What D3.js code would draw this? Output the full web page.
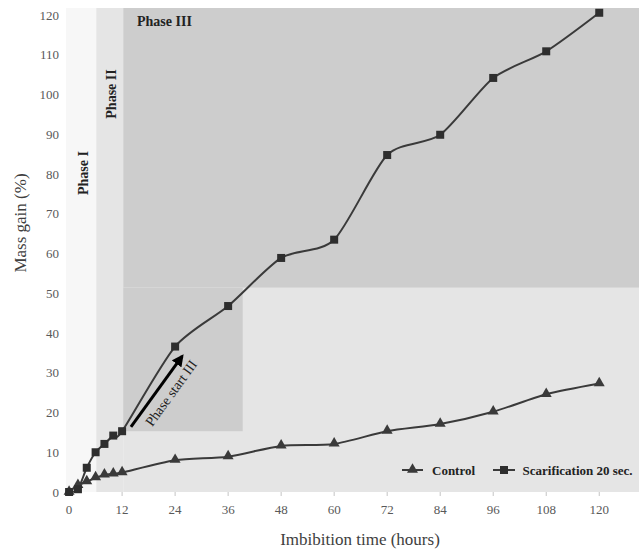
<!DOCTYPE html>
<html>
<head>
<meta charset="utf-8">
<script src="https://cdn.jsdelivr.net/npm/d3@7"></script>
<style>
  html, body { margin: 0; padding: 0; background: #fff; }
  svg { display: block; }
</style>
</head>
<body>
<svg id="chart" width="639" height="551" font-family="'Liberation Serif', 'DejaVu Serif', serif"></svg>
<script>
// ---- data ----
const hours = [0, 2, 4, 6, 8, 10, 12, 24, 36, 48, 60, 72, 84, 96, 108, 120];
const controlValues = [0, 1.7, 2.6, 3.6, 4.3, 4.6, 4.9, 8.0, 8.9, 11.6, 12.1, 15.3, 17.1, 20.2, 24.6, 27.3];
const scarificationValues = [0, 0.7, 6.1, 10.0, 12.1, 14.2, 15.3, 36.6, 46.8, 58.9, 63.5, 84.8, 89.9, 104.2, 110.9, 120.6];
const xTicks = [0, 12, 24, 36, 48, 60, 72, 84, 96, 108, 120];
const yTicks = [0, 10, 20, 30, 40, 50, 60, 70, 80, 90, 100, 110, 120];
const seriesNames = ["Control", "Scarification 20 sec."];
// phase regions (hours / % units)
const phaseBounds = { xMin: -0.7, p1End: 6.15, p2End: 12.25, xMax: 129, yMax: 121.8, p3Floor: 51.4, startRectEnd: 39.3, startRectFloor: 15.3 };
const arrowData = { from: [14, 16.4], to: [25.6, 34.2] };

// ---- layout ----
const FONT = "'Liberation Serif', 'DejaVu Serif', serif";
const svg = d3.select("#chart");
const plotL = 66, plotR = 639, plotT = 8, plotB = 492;
const x = d3.scaleLinear().domain([phaseBounds.xMin, phaseBounds.xMax]).range([plotL, plotR]);
const y = d3.scaleLinear().domain([0, phaseBounds.yMax]).range([plotB, plotT]);

// backgrounds
const P = phaseBounds;
function rect(x0, x1, y0, y1, fill) {
  svg.append("rect")
    .attr("x", x(x0)).attr("width", x(x1) - x(x0))
    .attr("y", y(y1)).attr("height", y(y0) - y(y1))
    .attr("fill", fill);
}
rect(P.xMin, P.p1End, 0, P.yMax, "#f7f7f7");
rect(P.p1End, P.p2End, 0, P.yMax, "#e5e5e5");
rect(P.p2End, P.xMax, 0, P.p3Floor, "#e5e5e5");
rect(P.p2End, P.xMax, P.p3Floor, P.yMax, "#cdcdcd");
rect(P.p2End, P.startRectEnd, P.startRectFloor, P.p3Floor, "#cdcdcd");

// x ticks
const gx = svg.append("g");
gx.selectAll("line").data(xTicks).join("line")
  .attr("x1", d => x(d)).attr("x2", d => x(d))
  .attr("y1", plotB).attr("y2", plotB + 4)
  .attr("stroke", "#c4c4c4").attr("stroke-width", 1);
gx.selectAll("text").data(xTicks).join("text")
  .attr("x", d => x(d)).attr("y", plotB + 22)
  .attr("font-family", FONT)
  .attr("text-anchor", "middle").attr("font-size", 13).attr("fill", "#595959")
  .text(d => d);

// y ticks
svg.append("g").selectAll("text").data(yTicks).join("text")
  .attr("x", 59).attr("y", d => y(d) + 4.5)
  .attr("font-family", FONT)
  .attr("text-anchor", "end").attr("font-size", 13).attr("fill", "#595959")
  .text(d => d);

// axis titles
svg.append("text").attr("x", 360).attr("y", 545)
  .attr("font-family", FONT)
  .attr("text-anchor", "middle").attr("font-size", 17).attr("fill", "#404040")
  .text("Imbibition time (hours)");
svg.append("text").attr("transform", "translate(26,223) rotate(-90)")
  .attr("font-family", FONT)
  .attr("text-anchor", "middle").attr("font-size", 17).attr("fill", "#404040")
  .text("Mass gain (%)");

// phase labels
svg.append("text").attr("x", 137).attr("y", 26)
  .attr("font-family", FONT)
  .attr("font-size", 14).attr("font-weight", "bold").attr("fill", "#222")
  .text("Phase III");
svg.append("text").attr("transform", "translate(116,94) rotate(-90)")
  .attr("font-family", FONT)
  .attr("text-anchor", "middle").attr("font-size", 14).attr("font-weight", "bold").attr("fill", "#222")
  .text("Phase II");
svg.append("text").attr("transform", "translate(88,173) rotate(-90)")
  .attr("font-family", FONT)
  .attr("text-anchor", "middle").attr("font-size", 14).attr("font-weight", "bold").attr("fill", "#222")
  .text("Phase I");

// lines
const lineColor = "#3a3a3a";
const line = d3.line().x(d => x(d[0])).y(d => y(d[1])).curve(d3.curveCardinal.tension(0.25));
const ctrl = hours.map((h, i) => [h, controlValues[i]]);
const scar = hours.map((h, i) => [h, scarificationValues[i]]);
svg.append("path").attr("d", line(ctrl)).attr("fill", "none").attr("stroke", lineColor).attr("stroke-width", 2);
svg.append("path").attr("d", line(scar)).attr("fill", "none").attr("stroke", lineColor).attr("stroke-width", 2);

const tri = d3.symbol().type(d3.symbolTriangle).size(52);
svg.append("g").selectAll("path").data(ctrl).join("path")
  .attr("transform", d => `translate(${x(d[0])},${y(d[1]) - 0.5})`)
  .attr("d", tri()).attr("fill", "#3a3a3a");
svg.append("g").selectAll("rect").data(scar).join("rect")
  .attr("x", d => x(d[0]) - 4).attr("y", d => y(d[1]) - 4)
  .attr("width", 8).attr("height", 8).attr("fill", "#2e2e2e");

// arrow
const defs = svg.append("defs");
defs.append("marker").attr("id", "ah").attr("viewBox", "0 0 10 10")
  .attr("refX", 8).attr("refY", 5).attr("markerWidth", 4).attr("markerHeight", 4)
  .attr("orient", "auto")
  .append("path").attr("d", "M0,0 L10,5 L0,10 z").attr("fill", "#000");
const ax0 = x(arrowData.from[0]), ay0 = y(arrowData.from[1]);
const ax1 = x(arrowData.to[0]), ay1 = y(arrowData.to[1]);
svg.append("line").attr("x1", ax0).attr("y1", ay0).attr("x2", ax1).attr("y2", ay1)
  .attr("stroke", "#000").attr("stroke-width", 3).attr("marker-end", "url(#ah)");
const ang = Math.atan2(ay1 - ay0, ax1 - ax0) * 180 / Math.PI;
svg.append("text").attr("transform", `translate(171,393) rotate(${ang})`)
  .attr("font-family", FONT)
  .attr("text-anchor", "middle").attr("dy", "0.35em").attr("font-size", 14).attr("fill", "#222")
  .text("Phase start III");

// legend
const lg = svg.append("g");
lg.append("line").attr("x1", 402).attr("x2", 423).attr("y1", 470).attr("y2", 470).attr("stroke", lineColor).attr("stroke-width", 2);
lg.append("path").attr("transform", "translate(412.5,469.5)").attr("d", tri()).attr("fill", "#3a3a3a");
lg.append("text").attr("x", 432).attr("y", 474.5).attr("font-family", FONT).attr("font-size", 13).attr("font-weight", "bold").attr("fill", "#222").text(seriesNames[0]);
lg.append("line").attr("x1", 493).attr("x2", 515).attr("y1", 470).attr("y2", 470).attr("stroke", lineColor).attr("stroke-width", 2);
lg.append("rect").attr("x", 500).attr("y", 466).attr("width", 8).attr("height", 8).attr("fill", "#2e2e2e");
lg.append("text").attr("x", 522.5).attr("y", 474.5).attr("font-family", FONT).attr("font-size", 13).attr("font-weight", "bold").attr("fill", "#222").text(seriesNames[1]);
</script>
</body>
</html>
